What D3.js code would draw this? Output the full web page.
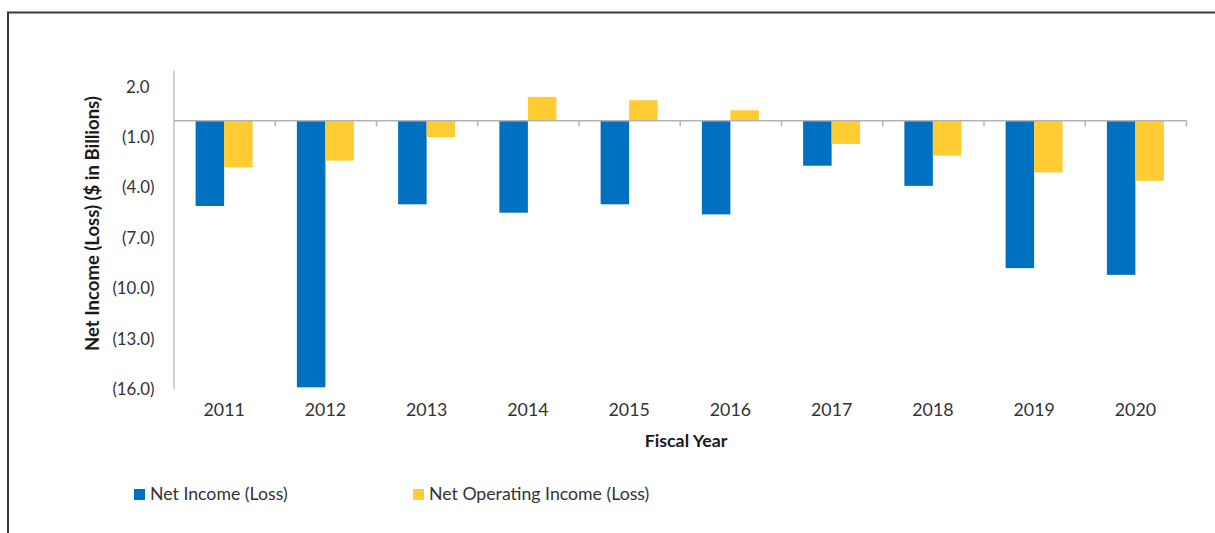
<!DOCTYPE html>
<html>
<head>
<meta charset="utf-8">
<script src="https://cdn.jsdelivr.net/npm/d3@7"></script>
<style>
  html, body { margin: 0; padding: 0; background: #fff; }
  svg { display: block; }
  text { font-family: Lato, "Noto Sans", sans-serif; }
</style>
</head>
<body>
<svg id="chart" width="1215" height="533"></svg>
<script>
// Fiscal years and results ($ in billions)
const categories = ["2011", "2012", "2013", "2014", "2015", "2016", "2017", "2018", "2019", "2020"];
const netIncome = [-5.1, -15.9, -5.0, -5.5, -5.0, -5.6, -2.7, -3.9, -8.8, -9.2];
const netOperatingIncome = [-2.8, -2.4, -1.0, 1.4, 1.2, 0.6, -1.4, -2.1, -3.1, -3.6];
const seriesNames = ["Net Income (Loss)", "Net Operating Income (Loss)"];
const yTicks = [2, -1, -4, -7, -10, -13, -16];

const colors = ["#0070C0", "#FFCC33"];
const svg = d3.select("#chart");

// outer frame (top and left edges)
svg.append("path")
  .attr("d", "M8,534 V12.5 H1216")
  .attr("fill", "none")
  .attr("stroke", "#3a3a3a")
  .attr("stroke-width", 2);

const plot = { left: 173.5, right: 1186, top: 70, bottom: 389 };

const y = d3.scaleLinear().domain([3, -16]).range([plot.top, plot.bottom]);
const x = d3.scaleBand().domain(categories)
  .range([plot.left, plot.right])
  .paddingInner(0.437).paddingOuter(0.2185);
const xs = d3.scaleBand().domain([0, 1]).range([0, x.bandwidth()]);

const fmt = v => v < 0 ? "(" + d3.format(".1f")(-v) + ")" : d3.format(".1f")(v);

// y axis
const yAxis = svg.append("g")
  .attr("transform", `translate(${plot.left},0)`)
  .call(d3.axisLeft(y).tickValues(yTicks).tickFormat(fmt).tickSize(0).tickPadding(19).tickSizeOuter(0));
yAxis.select(".domain").attr("stroke", "#b3b3b3").attr("stroke-width", 1.2);
yAxis.selectAll("text")
  .attr("font-size", 16.8)
  .attr("fill", "#333")
  .attr("font-family", "Lato")
  .attr("dx", d => d >= 0 ? -5 : 0);

// bars
const data = categories.map((c, i) => ({ c, vals: [netIncome[i], netOperatingIncome[i]] }));
const groups = svg.append("g").selectAll("g").data(data).join("g")
  .attr("transform", d => `translate(${x(d.c)},0)`);
groups.selectAll("rect")
  .data(d => d.vals.map((v, k) => ({ v, k })))
  .join("rect")
  .attr("x", d => xs(d.k))
  .attr("width", xs.bandwidth())
  .attr("y", d => y(Math.max(0, d.v)))
  .attr("height", d => Math.abs(y(d.v) - y(0)))
  .attr("fill", d => colors[d.k]);

// zero line with category divider ticks
const xIdx = d3.scaleLinear().domain([0, categories.length]).range([plot.left, plot.right]);
const zeroAxis = svg.append("g")
  .attr("transform", `translate(0,${y(0)})`)
  .call(d3.axisBottom(xIdx).ticks(categories.length).tickFormat("").tickSize(6).tickSizeOuter(0));
zeroAxis.select(".domain").attr("stroke", "#b3b3b3").attr("stroke-width", 1.5);
zeroAxis.selectAll(".tick line").attr("stroke", "#b3b3b3").attr("stroke-width", 1.5);
zeroAxis.selectAll(".tick").filter(d => d === 0).remove();

// category labels along the bottom
const xAxis = svg.append("g")
  .attr("transform", `translate(0,${plot.bottom})`)
  .call(d3.axisBottom(x).tickSize(0).tickPadding(14));
xAxis.select(".domain").remove();
xAxis.selectAll("text")
  .attr("font-size", 17.8)
  .attr("fill", "#333")
  .attr("font-family", "Lato");

// axis titles
svg.append("text")
  .attr("transform", `translate(99,${223.5}) rotate(-90)`)
  .attr("text-anchor", "middle")
  .attr("font-size", 18.5)
  .attr("font-weight", "bold")
  .attr("fill", "#1a1a1a")
  .text("Net Income (Loss) ($ in Billions)");

svg.append("text")
  .attr("x", 686)
  .attr("y", 447)
  .attr("text-anchor", "middle")
  .attr("font-size", 17.8)
  .attr("font-weight", "bold")
  .attr("fill", "#1a1a1a")
  .text("Fiscal Year");

// legend
const legendX = [134, 413];
const legend = svg.append("g").selectAll("g").data(seriesNames).join("g")
  .attr("transform", (d, i) => `translate(${legendX[i]},489)`);
legend.append("rect")
  .attr("width", 11).attr("height", 11)
  .attr("fill", (d, i) => colors[i]);
legend.append("text")
  .attr("x", 16)
  .attr("y", 11)
  .attr("font-size", 17.7)
  .attr("fill", "#333")
  .text(d => d);
</script>
</body>
</html>
